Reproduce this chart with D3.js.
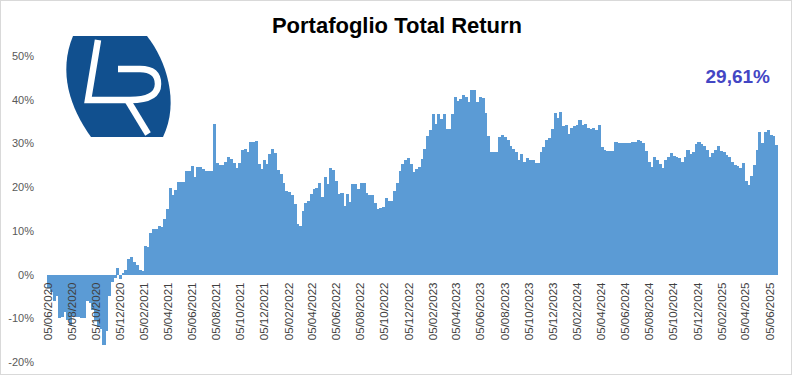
<!DOCTYPE html>
<html>
<head>
<meta charset="utf-8">
<script src="https://cdn.jsdelivr.net/npm/d3@7/dist/d3.min.js"></script>
<style>
  html, body { margin: 0; padding: 0; background: #fff; }
  svg { display: block; }
  .axis text { font-family: "Liberation Sans", Arial, sans-serif; }
</style>
</head>
<body>
<script>
// weekly total return (%), one array per calendar year, first week 05/06/2020
var startDate = "05/06/2020";
var ret2020 = [-3.0, -4.0, -6.0, -5.0, -10.0, -9.7, -8.6, -10.5, -11.5, -9.4,
  -9.6, -9.8, -9.9, -10.0, -6.0, -6.5, -8.0, -10.5, -12.0, -12.5,
  -16.2, -13.0, -5.0, -1.8, -0.8, 1.5, -1.0, 0.4, 1.0, 3.6];
var ret2021 = [4.1, 2.8, 2.2, 1.0, 0.9, 6.6, 6.3, 9.5, 10.5, 10.5,
  11.2, 10.9, 12.6, 15.1, 19.7, 18.1, 19.4, 21.1, 21.2, 21.2,
  23.6, 23.6, 24.9, 22.3, 24.7, 24.7, 24.2, 23.7, 23.7, 23.8,
  34.5, 25.5, 25.0, 25.0, 25.7, 26.8, 26.5, 25.5, 24.3, 25.5,
  28.4, 28.8, 28.0, 30.3, 30.4, 30.5, 25.3, 24.1, 26.2, 25.2,
  27.6, 28.8, 27.9];
var ret2022 = [24.0, 23.0, 21.0, 19.2, 18.9, 18.3, 16.2, 11.5, 11.1, 14.6,
  16.3, 16.8, 18.5, 19.5, 19.8, 20.9, 17.7, 22.4, 20.7, 24.4,
  23.9, 21.5, 18.5, 18.6, 15.8, 18.4, 16.5, 20.8, 20.8, 19.6,
  20.9, 20.9, 18.6, 18.3, 18.3, 16.3, 15.0, 15.3, 15.5, 17.5,
  16.8, 16.8, 19.2, 21.0, 23.8, 25.3, 26.2, 26.7, 25.3, 23.4,
  24.2, 24.6];
var ret2023 = [26.5, 28.8, 31.8, 33.0, 36.8, 34.5, 36.7, 35.6, 36.7, 33.3,
  33.4, 36.8, 40.6, 39.8, 40.2, 41.0, 40.6, 39.4, 42.3, 42.3,
  39.4, 40.6, 40.5, 36.9, 31.8, 28.1, 28.1, 28.1, 31.5, 32.0,
  31.4, 30.8, 29.5, 28.8, 28.1, 26.2, 27.5, 25.7, 26.7, 26.2,
  26.1, 25.5, 25.5, 28.0, 29.1, 30.7, 31.3, 33.3, 37.0, 35.9,
  37.3, 34.1];
var ret2024 = [34.3, 32.2, 33.6, 34.0, 34.3, 35.4, 34.2, 34.4, 33.6, 33.3,
  33.6, 33.0, 34.3, 29.1, 28.6, 28.2, 28.2, 28.2, 30.3, 30.2,
  30.2, 30.0, 30.1, 30.1, 30.4, 30.4, 30.8, 30.5, 30.0, 28.2,
  25.7, 24.7, 26.8, 26.2, 25.3, 24.4, 26.2, 26.8, 27.8, 27.2,
  27.0, 26.7, 25.7, 26.8, 28.5, 27.6, 28.0, 29.8, 30.3, 29.9,
  29.4, 28.6];
var ret2025 = [26.9, 27.8, 28.5, 29.4, 28.3, 28.0, 27.3, 26.8, 25.7, 25.1,
  24.9, 24.4, 25.5, 21.4, 20.4, 22.5, 25.0, 28.6, 32.6, 30.0,
  32.6, 33.0, 32.0, 31.6, 29.61];

var xTickLabels = ["05/06/2020", "05/08/2020", "05/10/2020", "05/12/2020",
  "05/02/2021", "05/04/2021", "05/06/2021", "05/08/2021", "05/10/2021", "05/12/2021",
  "05/02/2022", "05/04/2022", "05/06/2022", "05/08/2022", "05/10/2022", "05/12/2022",
  "05/02/2023", "05/04/2023", "05/06/2023", "05/08/2023", "05/10/2023", "05/12/2023",
  "05/02/2024", "05/04/2024", "05/06/2024", "05/08/2024", "05/10/2024", "05/12/2024",
  "05/02/2025", "05/04/2025", "05/06/2025"];
var yTicks = [-20, -10, 0, 10, 20, 30, 40, 50];
var lastValueLabel = "29,61%";

(function(){
  const W = 794, H = 377;
  var parse = d3.timeParse("%d/%m/%Y");
  var values = [].concat(ret2020, ret2021, ret2022, ret2023, ret2024, ret2025);
  var t0 = parse(startDate);
  var data = values.map(function(v, i){ return { date: d3.timeDay.offset(t0, 7 * i), value: v }; });
  var tickDates = xTickLabels.map(parse);

  var x = d3.scaleTime()
    .domain([tickDates[0], tickDates[tickDates.length - 1]])
    .range([47, 769]);
  var y = d3.scaleLinear().domain([-20, 50]).range([362, 56]);

  var svg = d3.select("body").append("svg")
    .attr("width", W).attr("height", H);

  // frame
  svg.append("rect")
    .attr("x", 0.5).attr("y", 0.5)
    .attr("width", W - 3).attr("height", H - 3)
    .attr("fill", "#fff").attr("stroke", "#d9d9d9");

  // logo
  var logo = svg.append("g").attr("class", "logo");
  logo.append("path")
    .attr("d", "M73,36 L147,36 C166,60 180,102 163,137 L91,137 C70,108 58,72 73,36 Z")
    .attr("fill", "#11508f");
  logo.append("path")
    .attr("d", "M98,40 L88,100 L130,100 Q158,100 158,84 Q158,69 140,69 L118,69")
    .attr("fill", "none").attr("stroke", "#fff").attr("stroke-width", 6.5);
  logo.append("path")
    .attr("d", "M128,101 L148,134")
    .attr("fill", "none").attr("stroke", "#fff").attr("stroke-width", 6.5);

  // bars
  svg.append("g").selectAll("rect")
    .data(data)
    .enter().append("rect")
    .attr("x", function(d){ return x(d.date); })
    .attr("width", function(d){ return x(d3.timeDay.offset(d.date, 7)) - x(d.date) + 0.4; })
    .attr("y", function(d){ return y(Math.max(0, d.value)); })
    .attr("height", function(d){ return Math.abs(y(d.value) - y(0)); })
    .attr("fill", "#5b9bd5")
    .attr("shape-rendering", "crispEdges");

  // y axis
  var yAxis = svg.append("g")
    .attr("class", "axis")
    .attr("transform", "translate(37,0)")
    .call(d3.axisLeft(y).tickValues(yTicks).tickSize(0).tickPadding(3)
      .tickFormat(function(d){ return d + "%"; }));
  yAxis.select(".domain").remove();
  yAxis.selectAll("text").attr("fill", "#595959").style("font-size", "11px");

  // x axis
  var xAxis = svg.append("g")
    .attr("class", "axis")
    .attr("transform", "translate(0," + y(0) + ")")
    .call(d3.axisBottom(x).tickValues(tickDates).tickSize(0)
      .tickFormat(function(d, i){ return xTickLabels[i]; }));
  xAxis.select(".domain").remove();
  xAxis.selectAll("text")
    .attr("fill", "#404040")
    .style("font-size", "11.5px")
    .attr("text-anchor", "end")
    .attr("transform", "rotate(-90)")
    .attr("x", -8).attr("y", 0).attr("dy", "0.35em");

  // title
  svg.append("text")
    .attr("x", 397).attr("y", 33)
    .attr("text-anchor", "middle")
    .style("font-family", "'Liberation Sans', Arial, sans-serif")
    .style("font-weight", "bold")
    .style("font-size", "22px")
    .attr("fill", "#000")
    .text("Portafoglio Total Return");

  // last value
  svg.append("text")
    .attr("x", 770).attr("y", 83)
    .attr("text-anchor", "end")
    .style("font-family", "'Liberation Sans', Arial, sans-serif")
    .style("font-weight", "bold")
    .style("font-size", "19px")
    .attr("fill", "#4346c4")
    .text(lastValueLabel);
})();
</script>
</body>
</html>
